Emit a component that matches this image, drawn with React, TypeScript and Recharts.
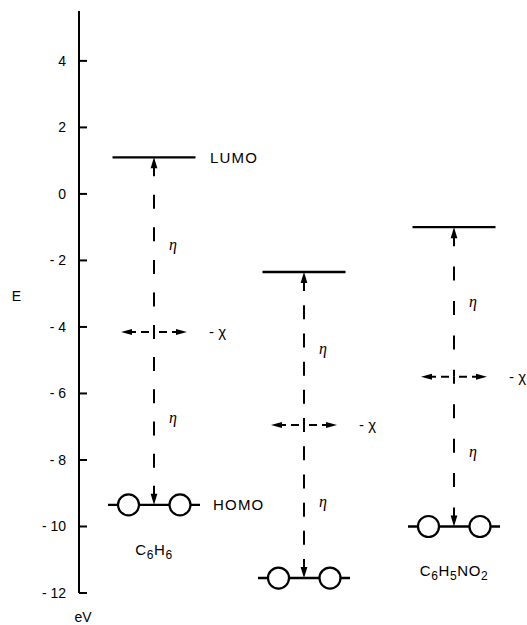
import React from 'react';
import { ComposedChart, XAxis, YAxis, Scatter, ReferenceLine, Label } from 'recharts';

// ---- data ----
const molecules = ['C6H6', 'Cl2', 'C6H5NO2'];
const positions = [1, 2, 3];
const lumo = [1.1, -2.35, -1.0];
const homo = [-9.35, -11.55, -10.0];
const chiLevel = [-4.15, -6.95, -5.5];
const yTicks = [-12, -10, -8, -6, -4, -2, 0, 2, 4];
const levelNames = ['LUMO', 'HOMO'];
const etaText = 'η';
const chiText = '- χ';
const yLabel = 'E';
const unitLabel = 'eV';

const FONT = '"Liberation Sans", Arial, Helvetica, sans-serif';
const SERIF = '"Liberation Serif", "DejaVu Serif", serif';
const INK = '#000';

const lumoPts = positions.map((x, i) => ({ x, y: lumo[i], name: molecules[i] }));
const homoPts = positions.map((x, i) => ({ x, y: homo[i], name: molecules[i] }));

const Formula = ({ x, y, text }: any) => {
  const parts: string[] = text.match(/[A-Za-z]+|\d+/g) || [];
  return (
    <text x={x} y={y} textAnchor="middle" fontFamily={FONT} fontSize={15} fill={INK} letterSpacing={0.6}>
      {parts.map((p, k) => {
        const isNum = /\d/.test(p);
        const prevNum = k > 0 && /\d/.test(parts[k - 1]);
        return (
          <tspan key={k} fontSize={isNum ? 12 : 15} dy={isNum ? 4 : prevNum ? -4 : 0}>
            {p}
          </tspan>
        );
      })}
    </text>
  );
};

const LumoShape = (props: any) => {
  const { cx, cy, payload } = props;
  return (
    <g>
      <line x1={cx - 41.5} x2={cx + 41.5} y1={cy} y2={cy} stroke={INK} strokeWidth={2.4} />
      {payload.name === molecules[0] && (
        <text x={cx + 56} y={cy + 5.5} fontFamily={FONT} fontSize={15} letterSpacing={1.2} fill={INK}>
          {levelNames[0]}
        </text>
      )}
    </g>
  );
};

const HomoShape = (props: any) => {
  const { cx, cy, payload } = props;
  return (
    <g>
      <line x1={cx - 46} x2={cx + 46} y1={cy} y2={cy} stroke={INK} strokeWidth={2.4} />
      <circle cx={cx - 25.5} cy={cy} r={10.5} fill="#fff" stroke={INK} strokeWidth={2.2} />
      <circle cx={cx + 26} cy={cy} r={10.5} fill="#fff" stroke={INK} strokeWidth={2.2} />
      {payload.name === molecules[0] && (
        <text x={cx + 59} y={cy + 5.5} fontFamily={FONT} fontSize={15} letterSpacing={1.2} fill={INK}>
          {levelNames[1]}
        </text>
      )}
      <Formula x={cx} y={Math.min(cy + 50, 619)} text={payload.name} />
    </g>
  );
};

// vertical dashed arrow from (x1,y1) (the -chi level) to (x2,y2) (a level), head at the level
const VArrow = (props: any) => {
  const { x1, y1, y2 } = props;
  const dir = Math.sign(y2 - y1);
  const len = Math.abs(y2 - y1);
  const headLen = 11;
  const headW = 3.4;
  const shaft = 8;
  const dash = 14;
  const gapTarget = 17;
  const w = 2;
  const start = dash / 2;
  const end = len - headLen - shaft;
  const avail = end - start;
  const n = Math.max(0, Math.round((avail - gapTarget) / (dash + gapTarget)));
  const gap = (avail - n * dash) / (n + 1);
  const segs: [number, number][] = [[0, start]];
  for (let k = 0; k < n; k++) {
    const a = start + gap + k * (dash + gap);
    segs.push([a, a + dash]);
  }
  segs.push([end, len - headLen + 1]);
  const d = segs.map(([a, b]) => `M${x1},${y1 + dir * a}V${y1 + dir * b}`).join('');
  const midY = (y1 + y2) / 2;
  return (
    <g>
      <path d={d} stroke={INK} strokeWidth={w} fill="none" />
      <polygon
        points={`${x1},${y2} ${x1 - headW},${y2 - dir * headLen} ${x1 + headW},${y2 - dir * headLen}`}
        fill={INK}
      />
      <text x={x1 + 15} y={midY + 5} fontFamily={SERIF} fontStyle="italic" fontSize={16} fill={INK}>
        {etaText}
      </text>
    </g>
  );
};

// horizontal arrow from the centre (x1,y1) to (x2,y1), head at x2
const HArrow = (props: any) => {
  const { x1, y1, x2, withLabel } = props;
  const dir = Math.sign(x2 - x1);
  const headLen = 11;
  const headW = 3;
  const w = 2;
  const L = Math.abs(x2 - x1);
  const d = `M${x1 + dir * 5},${y1}H${x1 + dir * 13}M${x1 + dir * 18},${y1}H${x1 + dir * (L - headLen + 1)}`;
  return (
    <g>
      <path d={d} stroke={INK} strokeWidth={w} fill="none" />
      <polygon
        points={`${x2},${y1} ${x2 - dir * headLen},${y1 - headW} ${x2 - dir * headLen},${y1 + headW}`}
        fill={INK}
      />
      {withLabel && (
        <text x={x2 + 22} y={y1 + 5} fontFamily={FONT} fontSize={15} fill={INK}>
          {chiText}
        </text>
      )}
    </g>
  );
};

const YTick = (props: any) => {
  const { x, y, payload } = props;
  const v = payload.value;
  const label = v < 0 ? `- ${Math.abs(v)}` : `${v}`;
  return (
    <g>
      <line x1={x} x2={x + 8} y1={y} y2={y} stroke={INK} strokeWidth={2} />
      <text x={x - 13} y={y} dy={5} textAnchor="end" fontFamily={FONT} fontSize={14} fill={INK}>
        {label}
      </text>
    </g>
  );
};

const AxisLabels = (props: any) => {
  const vb = props.viewBox || { x: 0, y: 11, width: 79, height: 582 };
  return (
    <g>
      <text x={16.5} y={vb.y + vb.height * 0.49 + 5} textAnchor="middle" fontFamily={FONT} fontSize={14} fill={INK}>
        {yLabel}
      </text>
      <text x={vb.x + vb.width + 4} y={vb.y + vb.height + 29} textAnchor="middle" fontFamily={FONT} fontSize={14} fill={INK}>
        {unitLabel}
      </text>
    </g>
  );
};

const HALF = 0.22;

export default function App() {
  return (
    <div style={{ position: 'absolute', left: 0, top: 0, width: 527, height: 625, background: '#fff' }}>
      <ComposedChart width={527} height={625} margin={{ top: 11, right: 13, bottom: 32, left: 0 }}>
        <XAxis type="number" dataKey="x" domain={[0.5, 3.4]} allowDataOverflow hide />
        <YAxis
          type="number"
          dataKey="y"
          domain={[-12, 5.5]}
          allowDataOverflow
          ticks={yTicks}
          interval={0}
          width={79}
          tickSize={0}
          tickMargin={0}
          tickLine={false}
          axisLine={{ stroke: INK, strokeWidth: 2 }}
          tick={<YTick />}
        >
          <Label content={<AxisLabels />} />
        </YAxis>
        <Scatter data={homoPts} dataKey="y" shape={(p: any) => <HomoShape {...p} />} isAnimationActive={false} />
        <Scatter data={lumoPts} dataKey="y" shape={(p: any) => <LumoShape {...p} />} isAnimationActive={false} />
        {positions.map((x, i) => (
          <ReferenceLine
            key={`up${i}`}
            segment={[{ x, y: chiLevel[i] }, { x, y: lumo[i] }]}
            shape={<VArrow />}
          />
        ))}
        {positions.map((x, i) => (
          <ReferenceLine
            key={`dn${i}`}
            segment={[{ x, y: chiLevel[i] }, { x, y: homo[i] }]}
            shape={<VArrow />}
          />
        ))}
        {positions.map((x, i) => (
          <ReferenceLine
            key={`l${i}`}
            segment={[{ x, y: chiLevel[i] }, { x: x - HALF, y: chiLevel[i] }]}
            shape={<HArrow />}
          />
        ))}
        {positions.map((x, i) => (
          <ReferenceLine
            key={`r${i}`}
            segment={[{ x, y: chiLevel[i] }, { x: x + HALF, y: chiLevel[i] }]}
            shape={<HArrow withLabel />}
          />
        ))}
      </ComposedChart>
    </div>
  );
}
